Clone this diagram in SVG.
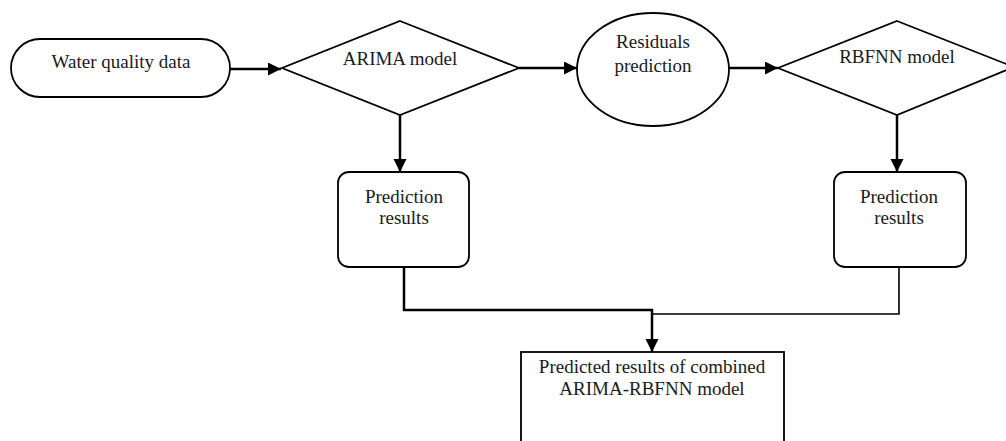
<svg xmlns="http://www.w3.org/2000/svg" width="1006" height="441" viewBox="0 0 1006 441">
<style>
.shape{fill:#fff;stroke:#000;stroke-width:1.8}
.conn{fill:none;stroke:#000;stroke-width:2.5}
.thin{stroke-width:1.6}
text{font-family:"Liberation Serif","Times New Roman",serif;font-size:19px;fill:#1a1a1a;text-anchor:middle}
</style>
<defs>
<marker id="arr" markerUnits="userSpaceOnUse" markerWidth="14" markerHeight="14" refX="13" refY="6.5" orient="auto">
<path d="M0,0 L13,6.5 L0,13 z" fill="#000"/>
</marker>
</defs>
<rect width="1006" height="441" fill="#fff"/>
<g id="water-quality-data">
<rect class="shape" x="11" y="39" width="219" height="58" rx="29" ry="29"/>
<text x="121" y="68">Water quality data</text>
</g>
<g id="arima-model">
<polygon class="shape" points="400,21 519,68 400,115 282,68"/>
<text x="400" y="65">ARIMA model</text>
</g>
<g id="residuals-prediction">
<ellipse class="shape" cx="653" cy="69.5" rx="76" ry="56.5"/>
<text x="653" y="48">Residuals</text>
<text x="653" y="72">prediction</text>
</g>
<g id="rbfnn-model">
<polygon class="shape" points="897,21 1014,67 897,115 778,68"/>
<text x="897" y="63">RBFNN model</text>
</g>
<g id="arima-prediction-results">
<rect class="shape" x="338" y="172" width="131" height="95" rx="11" ry="11"/>
<text x="404" y="203">Prediction</text>
<text x="404" y="224">results</text>
</g>
<g id="rbfnn-prediction-results">
<rect class="shape" x="834" y="172" width="132" height="95" rx="11" ry="11"/>
<text x="899" y="203">Prediction</text>
<text x="899" y="224">results</text>
</g>
<g id="combined-results">
<rect class="shape" x="521" y="352" width="263" height="110"/>
<text x="652" y="373">Predicted results of combined</text>
<text x="652" y="395">ARIMA-RBFNN model</text>
</g>
<g id="connectors">
<path class="conn" d="M230,69 L281,69" marker-end="url(#arr)"/>
<path class="conn" d="M519,68 L577,68" marker-end="url(#arr)"/>
<path class="conn" d="M729,68 L778,68" marker-end="url(#arr)"/>
<path class="conn" d="M400,115 L400,172" marker-end="url(#arr)"/>
<path class="conn" d="M897,115 L897,172" marker-end="url(#arr)"/>
<path class="conn" d="M404,267 L404,310 L652,310 L652,352" marker-end="url(#arr)"/>
<path class="conn thin" d="M899,267 L899,314 L652,314"/>
</g>
</svg>
